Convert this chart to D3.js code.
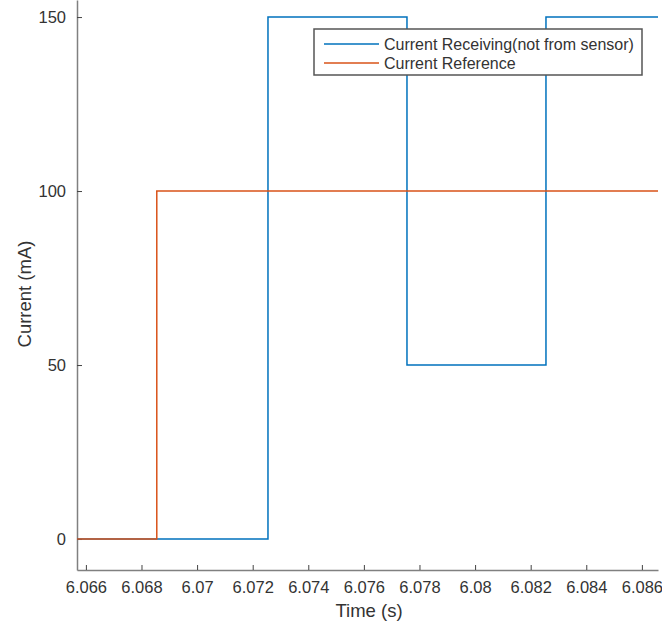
<!DOCTYPE html>
<html>
<head>
<meta charset="utf-8">
<script src="https://cdn.jsdelivr.net/npm/d3@7"></script>
<style>
  body { margin: 0; background: #fff; }
  text { font-family: "Liberation Sans", Arial, sans-serif; }
</style>
</head>
<body>
<div id="chart"></div>
<script>
"use strict";

// ---- data ----
var seriesNames = ["Current Receiving(not from sensor)", "Current Reference"];
var seriesColors = ["#0072BD", "#D95319"];
// step lines: [time, current]
var receivingTime = [6.06568, 6.07255, 6.07255, 6.07755, 6.07755, 6.08255, 6.08255, 6.08658];
var receivingCurr = [0, 0, 150, 150, 50, 50, 150, 150];
var referenceTime = [6.06568, 6.06855, 6.06855, 6.08658];
var referenceCurr = [0, 0, 100, 100];
var xTicks = [6.066, 6.068, 6.07, 6.072, 6.074, 6.076, 6.078, 6.08, 6.082, 6.084, 6.086];
var yTicks = [0, 50, 100, 150];

// ---- layout ----
var width = 662, height = 625;
var margin = {left: 77, right: 4, top: 0, bottom: 55};

var svg = d3.select("#chart").append("svg")
  .attr("width", width).attr("height", height);

var x = d3.scaleLinear().domain([6.06568, 6.08658]).range([margin.left, width - margin.right]);
var y = d3.scaleLinear().domain([-8.9, 154.9]).range([height - margin.bottom, margin.top]);

var axisColor = "#808080";
var labelColor = "#333";

//x axis, ticks pointing inward
var xAxis = svg.append("g")
  .attr("transform", "translate(0," + (height - margin.bottom) + ")")
  .call(d3.axisBottom(x).tickValues(xTicks).tickSizeInner(-5).tickSizeOuter(0)
    .tickPadding(11).tickFormat(function(d){ return d3.format("")(+d.toFixed(3)); }));
xAxis.select(".domain").attr("stroke", axisColor).attr("stroke-width", 1.5);
xAxis.selectAll(".tick line").attr("stroke", "#444");
xAxis.selectAll(".tick text").attr("fill", labelColor).attr("font-size", 16.5);

//y axis
var yAxis = svg.append("g")
  .attr("transform", "translate(" + margin.left + ",0)")
  .call(d3.axisLeft(y).tickValues(yTicks).tickSizeInner(-5).tickSizeOuter(0).tickPadding(11));
yAxis.select(".domain").attr("stroke", axisColor).attr("stroke-width", 1.5);
yAxis.selectAll(".tick line").attr("stroke", "#444");
yAxis.selectAll(".tick text").attr("fill", labelColor).attr("font-size", 16.5);

// axis titles
svg.append("text")
  .attr("x", 369)
  .attr("y", 617)
  .attr("text-anchor", "middle")
  .attr("fill", labelColor)
  .attr("font-size", 18.5)
  .text("Time (s)");

svg.append("text")
  .attr("transform", "translate(30.5,294) rotate(-90)")
  .attr("text-anchor", "middle")
  .attr("fill", labelColor)
  .attr("font-size", 18.5)
  .text("Current (mA)");

// lines
var line = d3.line().x(function(d){ return x(d[0]); }).y(function(d){ return y(d[1]); });

var recvData = d3.zip(receivingTime, receivingCurr);
var refData = d3.zip(referenceTime, referenceCurr);

svg.append("path").datum(recvData)
  .attr("d", line).attr("fill", "none")
  .attr("stroke", seriesColors[0]).attr("stroke-width", 1.5);

svg.append("path").datum(refData)
  .attr("d", line).attr("fill", "none")
  .attr("stroke", seriesColors[1]).attr("stroke-width", 1.5);

// legend
var legend = svg.append("g").attr("transform", "translate(314,29)");
legend.append("rect")
  .attr("width", 328).attr("height", 46)
  .attr("fill", "#fff").attr("stroke", "#555").attr("stroke-width", 1.5);

for(var i = 0; i < seriesNames.length; ++i){
  var ly = 15 + i * 19;
  legend.append("line")
    .attr("x1", 10).attr("x2", 65).attr("y1", ly).attr("y2", ly)
    .attr("stroke", seriesColors[i]).attr("stroke-width", 1.5);
  legend.append("text")
    .attr("x", 70).attr("y", ly + 5.5)
    .attr("fill", labelColor).attr("font-size", 16)
    .text(seriesNames[i]);
}
</script>
</body>
</html>
